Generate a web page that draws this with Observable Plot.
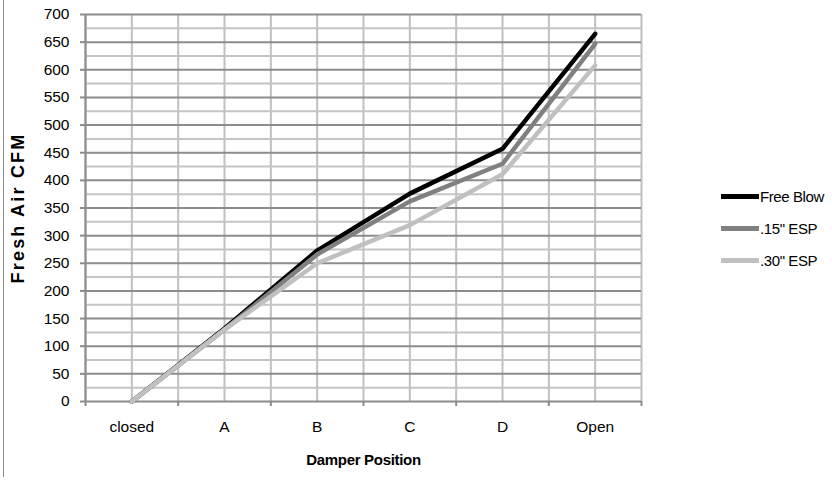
<!DOCTYPE html>
<html>
<head>
<meta charset="utf-8">
<script src="https://cdn.jsdelivr.net/npm/d3@7"></script>
<script src="https://cdn.jsdelivr.net/npm/@observablehq/plot@0.6"></script>
<style>
  html, body { margin: 0; padding: 0; background: #fff; }
  #wrap { position: relative; width: 832px; height: 481px; font-family: "Liberation Sans", Arial, sans-serif; }
  #border { position: absolute; left: 3px; top: 0; width: 0; height: 477px; border-left: 1.5px solid #8a8a8a; }
  #legend { position: absolute; left: 721px; top: 180px; font-size: 15px; letter-spacing: -0.4px; color: #000; }
  .item { display: flex; align-items: center; height: 32px; }
  .sw { width: 38px; height: 5px; margin-right: 1px; }
</style>
</head>
<body>
<div id="wrap">
  <div id="border"></div>
  <div id="chart"></div>
  <div id="legend"></div>
</div>
<script>
const categories = ["closed", "A", "B", "C", "D", "Open"];
const seriesNames = ["Free Blow", ".15\" ESP", ".30\" ESP"];
const freeBlow = [0, 132, 273, 376, 457, 665];
const esp15 = [0, 130, 266, 362, 430, 647];
const esp30 = [0, 130, 250, 319, 411, 608];
const seriesColors = ["#000000", "#808080", "#c0c0c0"];
const yTicks = d3.range(0, 701, 50);

const seriesValues = [freeBlow, esp15, esp30];
const data = [];
seriesValues.forEach((vals, s) => vals.forEach((v, i) => data.push({series: seriesNames[s], i, value: v})));

const centers = categories.map((c, i) => i);
const bounds = d3.range(-0.5, categories.length, 1);
const vGrid = centers.concat(bounds);
const minorY = yTicks.slice(0, -1).map(t => t + 25);

const chart = Plot.plot({
  width: 832,
  height: 481,
  marginLeft: 85,
  marginRight: 191,
  marginTop: 14,
  marginBottom: 80,
  style: {fontFamily: "'Liberation Sans', Arial, sans-serif", background: "transparent"},
  x: {type: "linear", domain: [-0.5, categories.length - 0.5]},
  y: {domain: [0, 700]},
  color: {domain: seriesNames, range: seriesColors},
  marks: [
    Plot.ruleX(vGrid, {stroke: "#c0c0c0", strokeWidth: 2}),
    Plot.ruleY(minorY, {stroke: "#c4c4c4", strokeWidth: 2}),
    Plot.ruleY(yTicks, {stroke: "#8c8c8c", strokeWidth: 2}),
    Plot.ruleX([-0.5], {stroke: "#8c8c8c", strokeWidth: 2}),
    Plot.axisY({ticks: yTicks, tickSize: 5, tickPadding: 11, fontSize: 15.5, label: null, stroke: "#8c8c8c", strokeWidth: 2, color: "#000"}),
    Plot.axisX({ticks: bounds, tickSize: 5, tickFormat: () => "", label: null, stroke: "#8c8c8c", strokeWidth: 2}),
    Plot.axisX({ticks: centers, tickSize: 0, tickPadding: 19, tickFormat: i => categories[i], fontSize: 15.5, label: null, color: "#000"}),
    Plot.line(data, {x: "i", y: "value", z: "series", stroke: "series", strokeWidth: 4.5, strokeLinejoin: "round"}),
    Plot.text(["Fresh Air CFM"], {frameAnchor: "left", textAnchor: "middle", dx: -67, rotate: -90, fontSize: 18, fontWeight: "bold", fill: "#000", className: "ytitle"}),
    Plot.text(["Damper Position"], {frameAnchor: "bottom", dy: 63, fontSize: 15, fontWeight: "bold", fill: "#000", className: "xtitle"})
  ]
});
document.getElementById("chart").appendChild(chart);
d3.select(chart).selectAll(".ytitle text").style("letter-spacing", "2.2px");
d3.select(chart).selectAll(".xtitle text").style("letter-spacing", "-0.3px");

const legend = document.getElementById("legend");
seriesNames.forEach((n, k) => {
  const row = document.createElement("div");
  row.className = "item";
  const sw = document.createElement("div");
  sw.className = "sw";
  sw.style.background = seriesColors[k];
  const t = document.createElement("span");
  t.textContent = n;
  row.appendChild(sw);
  row.appendChild(t);
  legend.appendChild(row);
});
</script>
</body>
</html>
